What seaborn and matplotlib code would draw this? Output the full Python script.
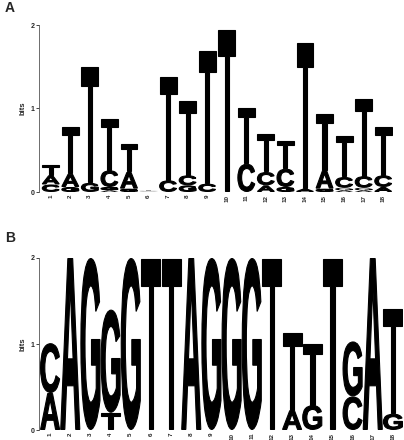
import numpy as np
import pandas as pd
import seaborn as sns
import matplotlib
matplotlib.use("Agg")
import matplotlib.pyplot as plt
from matplotlib.textpath import TextPath
from matplotlib.patches import PathPatch
from matplotlib.font_manager import FontProperties
from matplotlib.transforms import Affine2D

positions = list(range(1, 19))
letters = ["A", "C", "G", "T"]

# Panel A heights (bits) per letter
a_A = [0.11, 0.16, 0.00, 0.02, 0.20, 0.005, 0.00, 0.00, 0.00, 0.00, 0.00, 0.08, 0.00, 0.04, 0.22, 0.02, 0.02, 0.06]
a_C = [0.09, 0.00, 0.00, 0.20, 0.00, 0.005, 0.14, 0.12, 0.10, 0.00, 0.34, 0.16, 0.22, 0.00, 0.00, 0.13, 0.14, 0.14]
a_G = [0.00, 0.06, 0.11, 0.04, 0.04, 0.005, 0.00, 0.08, 0.00, 0.00, 0.00, 0.00, 0.06, 0.00, 0.04, 0.03, 0.03, 0.00]
a_T = [0.13, 0.56, 1.39, 0.62, 0.34, 0.005, 1.24, 0.90, 1.60, 1.95, 0.67, 0.46, 0.34, 1.75, 0.68, 0.50, 0.93, 0.58]

# Panel B heights (bits) per letter
b_A = [0.43, 2.00, 0.00, 0.00, 0.00, 0.00, 0.00, 2.00, 0.00, 0.00, 0.00, 0.00, 0.23, 0.00, 0.00, 0.00, 2.00, 0.00]
b_C = [0.58, 0.00, 0.00, 0.00, 0.00, 0.00, 0.00, 0.00, 0.00, 0.00, 0.00, 0.00, 0.00, 0.00, 0.00, 0.39, 0.00, 0.00]
b_G = [0.00, 0.00, 2.00, 1.20, 2.00, 0.00, 0.00, 0.00, 2.00, 2.00, 2.00, 0.00, 0.00, 0.29, 0.00, 0.64, 0.00, 0.19]
b_T = [0.00, 0.00, 0.00, 0.20, 0.00, 2.00, 2.00, 0.00, 0.00, 0.00, 0.00, 2.00, 0.90, 0.72, 2.00, 0.00, 0.00, 1.22]

y_ticks = [0, 1, 2]
y_label = "bits"

sns.set_style("ticks")
plt.rcParams['font.family'] = ['Liberation Sans', 'DejaVu Sans']

fp = FontProperties(family="Liberation Sans", weight="bold")
STROKE_PX = 1.1


def draw_letter(ax, ch, xc, y0, h, w, ux, uy, color="black"):
    if h <= 0:
        return
    tp = TextPath((0, 0), ch, size=1, prop=fp)
    ext = tp.get_extents()
    lw = 0
    if h / uy > 3 * STROKE_PX:
        lw = STROKE_PX
        w2 = w - lw * ux
        h2 = h - lw * uy
        x0 = xc - w2 / 2
        yb = y0 + lw * uy / 2
    else:
        w2, h2, x0, yb = w, h, xc - w / 2, y0
    t = (Affine2D().translate(-ext.x0, -ext.y0)
         .scale(w2 / ext.width, h2 / ext.height)
         .translate(x0, yb))
    path = t.transform_path(tp)
    ax.add_patch(PathPatch(path, facecolor=color, edgecolor=color if lw else "none",
                           lw=lw * 0.72, joinstyle="miter"))


def draw_logo(ax, df, width, xlim, ax_w_px, ax_h_px):
    ux = (xlim[1] - xlim[0]) / ax_w_px
    uy = 2.0 / ax_h_px
    for pos, row in df.iterrows():
        vals = sorted([(row[l], l) for l in letters if row[l] > 0])
        y = 0.0
        for h, l in vals:
            col = "black" if h > 0.01 else "#999999"
            draw_letter(ax, l, pos, y, h, width, ux, uy, col)
            y += h
    ax.set_xlim(*xlim)
    ax.set_ylim(0, 2)
    ax.set_yticks(y_ticks)
    ax.set_yticklabels([str(v) for v in y_ticks], fontsize=5, fontweight="bold")
    ax.set_xticks(positions)
    ax.set_xticklabels([str(p) for p in positions], rotation=90, fontsize=4.5,
                       fontweight="bold")
    ax.tick_params(axis="x", length=0, pad=2)
    ax.tick_params(axis="y", length=2, width=0.6, pad=1)
    ax.set_ylabel(y_label, fontsize=5.5, fontweight="bold", labelpad=3)
    sns.despine(ax=ax, bottom=True)
    ax.spines["left"].set_linewidth(0.6)
    ax.spines["left"].set_color("#555555")
    ax.patch.set_alpha(0)


dfA = pd.DataFrame({"A": a_A, "C": a_C, "G": a_G, "T": a_T}, index=positions)
dfB = pd.DataFrame({"A": b_A, "C": b_C, "G": b_G, "T": b_T}, index=positions)

W, H = 404, 440
fig = plt.figure(figsize=(W / 100, H / 100), dpi=100)

axA = fig.add_axes([39 / W, (H - 192) / H, (393 - 39) / W, 167 / H])
draw_logo(axA, dfA, 0.92, (0.4, 18.5), 393 - 39, 167)

axB = fig.add_axes([39 / W, (H - 430) / H, (403 - 39) / W, 172 / H])
draw_logo(axB, dfB, 1.0, (0.45, 18.5), 403 - 39, 172)

fig.text(5 / W, 1 - 12 / H, "A", fontsize=10, fontweight="bold", va="baseline")
fig.text(5 / W, 1 - 242 / H, "B", fontsize=10, fontweight="bold", va="baseline")

fig.savefig("out.png", dpi=100)
